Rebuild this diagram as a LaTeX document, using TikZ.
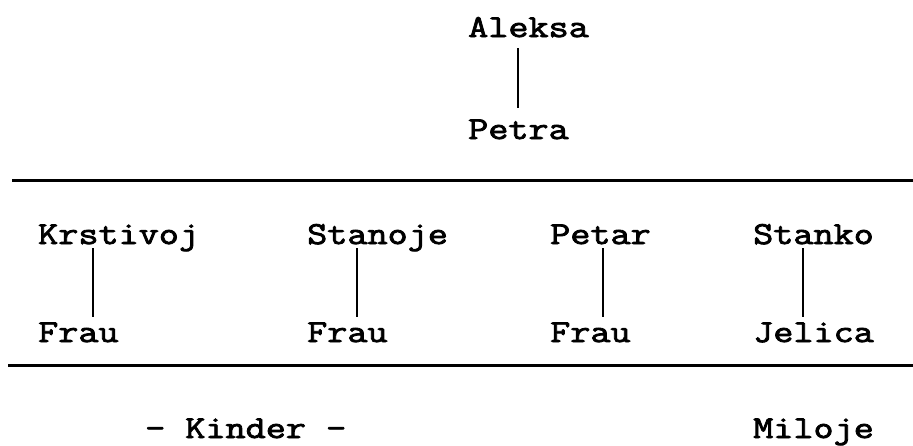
\documentclass[tikz,border=0pt]{standalone}
\usepackage{fontspec}
\newfontfamily\typewriter{Latin Modern Mono}[FakeStretch=1.22, FakeBold=2.6]
\usetikzlibrary{calc}
\tikzset{
  person/.style={font=\fontsize{32}{40}\selectfont\typewriter, anchor=base west, inner sep=0pt},
  link/.style={line width=2.5pt},
  rule/.style={line width=3pt}
}
\begin{document}
\begin{tikzpicture}[x=1pt,y=-1pt]
\useasboundingbox (0,0) rectangle (913,445);

% parents
\node[person] (aleksa) at (468,37) {Aleksa};
\node[person] (petra)  at (468,139) {Petra};
\draw[link] ($(aleksa.base west)+(50,11)$) -- ($(petra.base west)+(50,-31)$);

% upper rule
\coordinate (r1a) at (12,180);
\coordinate (r1b) at (913,180);
\draw[rule] (r1a) -- (r1b);

% sons
\node[person] (krstivoj) at (38,244) {Krstivoj};
\node[person] (stanoje)  at (307,244) {Stanoje};
\node[person] (petar)    at (550,244) {Petar};
\node[person] (stanko)   at (753,244) {Stanko};

% their wives
\node[person] (frau1)  at (38,342) {Frau};
\node[person] (frau2)  at (307,342) {Frau};
\node[person] (frau3)  at (550,342) {Frau};
\node[person] (jelica) at (753,342) {Jelica};

\draw[link] ($(krstivoj.base west)+(55,4)$) -- ($(frau1.base west)+(55,-25)$);
\draw[link] ($(stanoje.base west)+(50,4)$)  -- ($(frau2.base west)+(50,-25)$);
\draw[link] ($(petar.base west)+(53,4)$)    -- ($(frau3.base west)+(53,-25)$);
\draw[link] ($(stanko.base west)+(50,4)$)   -- ($(jelica.base west)+(50,-25)$);

% lower rule
\coordinate (r2a) at (8,365);
\coordinate (r2b) at (913,365);
\draw[rule] (r2a) -- (r2b);

% children
\node[person] (kinder) at (145,438) {- Kinder -};
\node[person] (miloje) at (753,438) {Miloje};
\end{tikzpicture}
\end{document}
